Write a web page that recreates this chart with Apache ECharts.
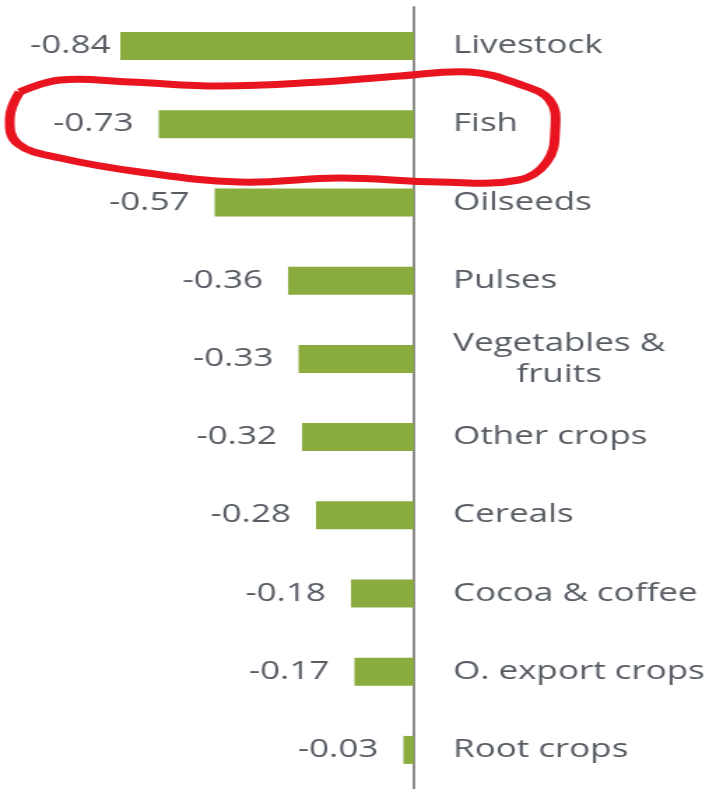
<!DOCTYPE html>
<html>
<head>
<meta charset="utf-8">
<script src="https://cdn.jsdelivr.net/npm/echarts@6/dist/echarts.min.js"></script>
<style>
  html, body { margin: 0; padding: 0; background: #fff; overflow: hidden; }
  /* the source picture is stretched sideways, so the chart is drawn narrow and widened */
  #chart { width: 507px; height: 789px; transform: scaleX(1.3984); transform-origin: 0 0; }
</style>
</head>
<body>
<div id="chart"></div>
<script>
// categories (top to bottom) and their values
const categories = ['Livestock', 'Fish', 'Oilseeds', 'Pulses', 'Vegetables & fruits',
  'Other crops', 'Cereals', 'Cocoa & coffee', 'O. export crops', 'Root crops']
const values = [-0.84, -0.73, -0.57, -0.36, -0.33, -0.32, -0.28, -0.18, -0.17, -0.03]

const textColor = '#575c63'
const font = 'Open Sans'

// the top label sits close to its bar, the others leave a wider gap
let barData = values.map((v, i) => i === 0 ? { value: v, label: { distance: 7 } } : v)

let myChart = echarts.init(document.getElementById('chart'))
let option = {
  animation: false,
  grid: { left: 46, right: 209, top: 7, height: 784.5 },
  xAxis: { type: 'value', min: -1, max: 0, show: false },
  yAxis: {
    type: 'category',
    data: categories,
    inverse: true,
    position: 'right',
    axisLine: { show: true, lineStyle: { color: '#7f7f7f', width: 1.8 } },
    axisTick: { show: false },
    splitLine: { show: false },
    axisLabel: {
      margin: 28,
      color: textColor,
      fontFamily: font,
      fontSize: 25,
      formatter: function (v) {
        if (v === 'Vegetables & fruits') return '{a|Vegetables &}\n{b|fruits}'
        return v
      },
      rich: {
        a: { color: textColor, fontFamily: font, fontSize: 25, lineHeight: 31 },
        b: { color: textColor, fontFamily: font, fontSize: 25, lineHeight: 31, align: 'center' }
      }
    }
  },
  series: [{
    type: 'bar',
    data: barData,
    barWidth: 28,
    itemStyle: { color: '#8aab3e' },
    label: {
      show: true,
      position: 'left',
      distance: 18,
      color: textColor,
      fontFamily: font,
      fontSize: 25
    }
  }],
  // hand-drawn red ring around the Fish row
  graphic: [{
    type: 'polyline',
    shape: {
      smooth: 0.4,
      points: [[14, 92], [43, 80], [93, 82], [157, 86], [229, 82], [286, 76], [336, 72],
        [371, 84], [393, 100], [397, 130], [391, 162], [371, 180], [314, 182],
        [243, 178], [171, 182], [100, 172], [43, 158], [13, 144], [7, 118], [14, 92]]
    },
    style: { stroke: '#e8141f', lineWidth: 7, fill: null },
    z: 100
  }]
}
myChart.setOption(option)
</script>
</body>
</html>
